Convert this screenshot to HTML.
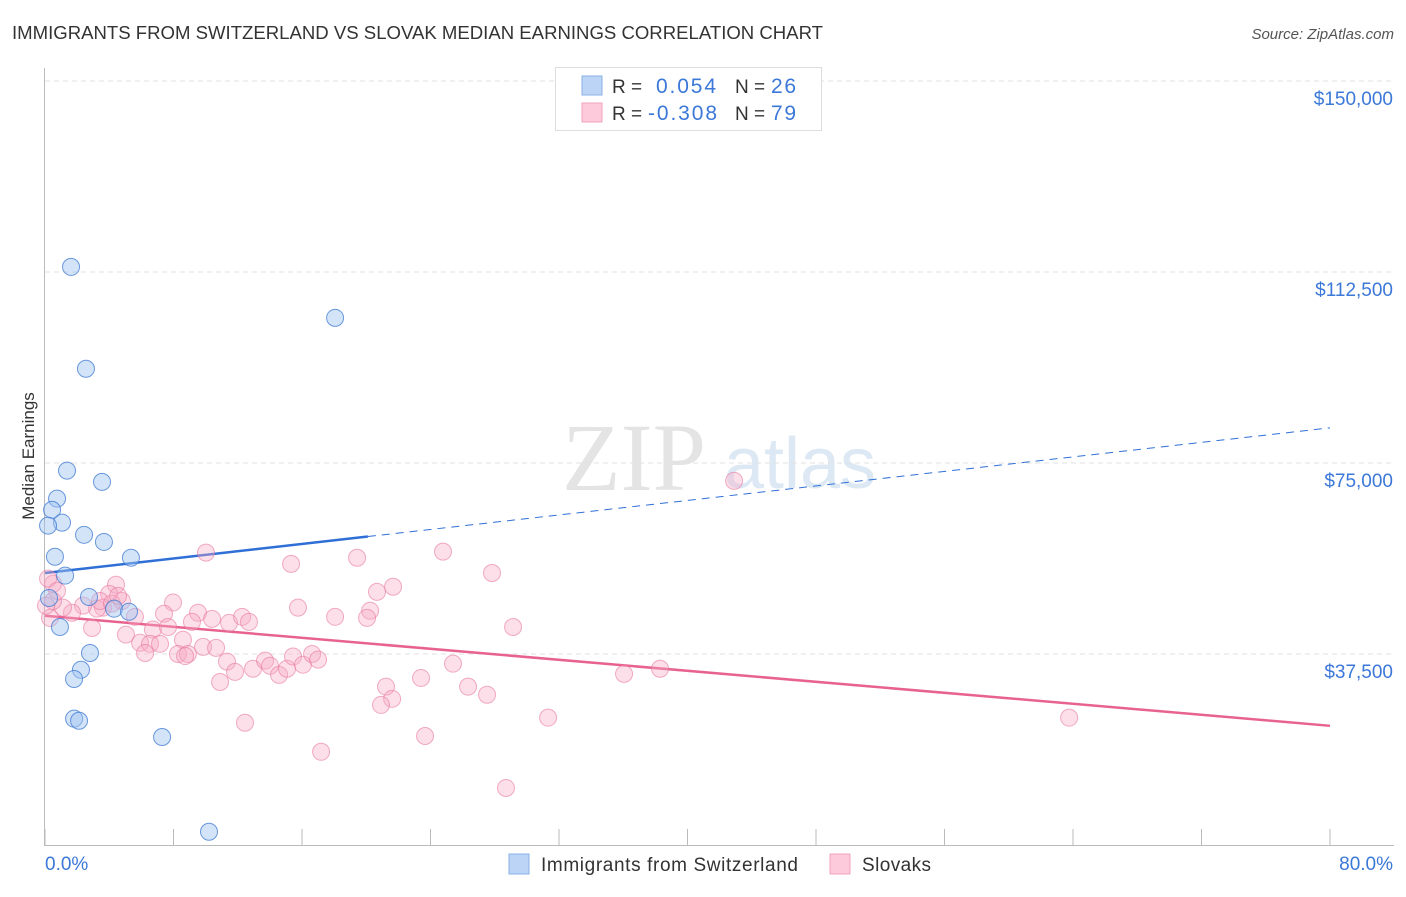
<!DOCTYPE html>
<html><head><meta charset="utf-8"><style>
body{margin:0;background:#fff;font-family:"Liberation Sans",sans-serif;}
</style></head><body>
<svg id="chart" width="1406" height="892" xmlns="http://www.w3.org/2000/svg">
<text x="12" y="39" font-size="18" fill="#333" textLength="811" lengthAdjust="spacingAndGlyphs">IMMIGRANTS FROM SWITZERLAND VS SLOVAK MEDIAN EARNINGS CORRELATION CHART</text>
<text x="1394" y="39" font-size="15" fill="#555" font-style="italic" text-anchor="end">Source: ZipAtlas.com</text>
<text x="0" y="0" transform="translate(34,456) rotate(-90)" font-size="17" fill="#333" text-anchor="middle">Median Earnings</text>
<g><text x="634" y="490" font-size="96" fill="#e4e4e4" font-family="Liberation Serif,serif" text-anchor="middle">ZIP</text><text x="800" y="488" font-size="72" fill="#dde8f5" text-anchor="middle">atlas</text></g>
<g id="grid"></g><g id="axes"></g><g id="lines"></g><g id="pts"></g>
<g>
<rect x="555.5" y="67.5" width="266" height="63" fill="#fff" stroke="#ddd"/>
<rect x="582" y="76" width="20" height="19" fill="#bcd4f5" stroke="#8ab0e6"/>
<rect x="582" y="103" width="20" height="19" fill="#fccadb" stroke="#f1a3bd"/>
<text x="612" y="93" font-size="19" fill="#333">R =</text><text x="656" y="93" font-size="21" fill="#3b78d8" textLength="60">0.054</text>
<text x="735" y="93" font-size="19" fill="#333">N =</text><text x="771" y="93" font-size="21" fill="#3b78d8" textLength="25">26</text>
<text x="612" y="120" font-size="19" fill="#333">R =</text><text x="648" y="120" font-size="21" fill="#3b78d8" textLength="69">-0.308</text>
<text x="735" y="120" font-size="19" fill="#333">N =</text><text x="771" y="120" font-size="21" fill="#3b78d8" textLength="25">79</text>
</g>
<g>
<rect x="509" y="854" width="20" height="20" fill="#bcd4f5" stroke="#8ab0e6"/>
<text x="541" y="871" font-size="19" fill="#333" textLength="257">Immigrants from Switzerland</text>
<rect x="830" y="854" width="20" height="20" fill="#fccadb" stroke="#f1a3bd"/>
<text x="862" y="871" font-size="19" fill="#333" textLength="69">Slovaks</text>
</g>
</svg>
<script>
const yTicks=[37500,75000,112500,150000];
const yTickLabels=["$37,500","$75,000","$112,500","$150,000"];
const xTickLabels=["0.0%","80.0%"];
const swissX=[1.62,18.06,2.55,1.37,3.55,0.75,0.44,1.06,0.19,2.43,3.67,0.62,5.35,1.25,0.25,2.74,4.30,5.23,0.93,2.80,2.24,1.81,1.81,2.12,7.29,10.21];
const swissY=[113.5,103.5,93.5,73.5,71.3,68.0,65.8,63.3,62.7,60.9,59.5,56.6,56.4,52.9,48.5,48.7,46.4,45.8,42.8,37.7,34.4,32.6,24.8,24.4,21.2,2.6];
const slovakX=[10.02,15.32,19.43,24.78,27.83,4.42,20.67,21.67,15.75,7.97,7.41,3.99,4.79,3.61,3.24,2.37,1.68,1.12,0.50,0.50,0.31,5.60,9.53,9.15,10.40,11.46,12.27,12.70,18.06,20.24,20.05,29.14,2.93,5.04,6.72,7.66,8.59,5.92,6.54,7.16,6.23,8.28,8.90,9.84,10.65,11.33,11.83,10.90,12.95,13.70,14.01,14.57,15.07,15.44,16.06,16.63,17.00,25.40,21.23,21.61,20.92,23.41,26.34,27.52,12.45,23.66,17.19,28.70,42.90,63.76,31.32,38.29,36.05,0.06,0.19,0.75,3.42,4.17,8.72,4.55];
const slovakY=[57.4,55.2,56.4,57.6,53.4,51.1,49.7,50.7,46.6,47.6,45.4,49.3,47.9,46.6,46.4,47.0,45.6,46.6,51.3,47.9,44.6,44.8,45.6,43.8,44.4,43.6,44.8,43.8,44.8,46.0,44.6,42.8,42.6,41.3,42.3,42.8,40.3,39.7,39.5,39.5,37.7,37.5,37.5,38.9,38.7,36.0,34.0,32.0,34.6,36.2,35.2,33.4,34.6,37.0,35.4,37.5,36.4,35.6,31.1,28.7,27.5,32.8,31.1,29.5,24.0,21.4,18.3,11.2,71.5,25.0,25.0,34.6,33.6,47.0,52.3,49.9,47.9,47.4,37.1,48.9];
const swissFit=[53.4,81.9], swissSolidEnd=20.1;
const slovakFit=[45.0,23.4];
const X=v=>45+v/80*1285, Y=v=>845-v/37.5*191;
const NS="http://www.w3.org/2000/svg";
function mk(p,t,a){const e=document.createElementNS(NS,t);for(const k in a)e.setAttribute(k,a[k]);document.getElementById(p).appendChild(e);return e;}
let g=mk('grid','line',{x1:45,x2:1394,y1:Y(150),y2:Y(150),stroke:'#ddd','stroke-dasharray':'5,4'});


yTicks.forEach((t,i)=>{
 const l=mk('grid','line',{x1:45,x2:1394,y1:Y(t/1000),y2:Y(t/1000),stroke:'#e2e2e2','stroke-dasharray':'5,4'});
 
 
 const tx=mk('axes','text',{x:1393,y:Y(t/1000)+24,'font-size':19,fill:'#3b78d8','text-anchor':'end'});
 tx.textContent=yTickLabels[i];
 
 
});
let a=mk('axes','line',{x1:44.5,x2:44.5,y1:68,y2:845,stroke:'#bbb'});


a=mk('axes','line',{x1:44,x2:1394,y1:845.5,y2:845.5,stroke:'#bbb'});


for(let p=0;p<=80;p+=8){const t=mk('axes','line',{x1:X(p),x2:X(p),y1:829,y2:845,stroke:'#bbb'});
 
 }
[[0,'start',45],[80,'end',1393]].forEach((d,i)=>{const t=mk('axes','text',{x:d[2],y:870,'font-size':19,fill:'#3b78d8','text-anchor':d[1]});t.textContent=xTickLabels[i];
 
 });
const sf=x=>swissFit[0]+(swissFit[1]-swissFit[0])*x/80;
let ln=mk('lines','line',{x1:X(0),y1:Y(sf(0)),x2:X(swissSolidEnd),y2:Y(sf(swissSolidEnd)),stroke:'#2f6fd6','stroke-width':2.5});


ln=mk('lines','line',{x1:X(swissSolidEnd),y1:Y(sf(swissSolidEnd)),x2:X(80),y2:Y(sf(80)),stroke:'#2f6fd6','stroke-width':1,'stroke-dasharray':'8,6'});


ln=mk('lines','line',{x1:X(0),y1:Y(slovakFit[0]),x2:X(80),y2:Y(slovakFit[1]),stroke:'#e8628f','stroke-width':2.5});


slovakX.forEach((x,i)=>{const c=mk('pts','circle',{cx:X(x),cy:Y(slovakY[i]),r:8.5,fill:'rgba(248,170,196,0.38)',stroke:'rgba(232,120,160,0.6)','stroke-width':1});
 
 });
swissX.forEach((x,i)=>{const c=mk('pts','circle',{cx:X(x),cy:Y(swissY[i]),r:8.5,fill:'rgba(160,195,240,0.45)',stroke:'rgba(60,120,210,0.75)','stroke-width':1});
 
 });
</script>
</body></html>
